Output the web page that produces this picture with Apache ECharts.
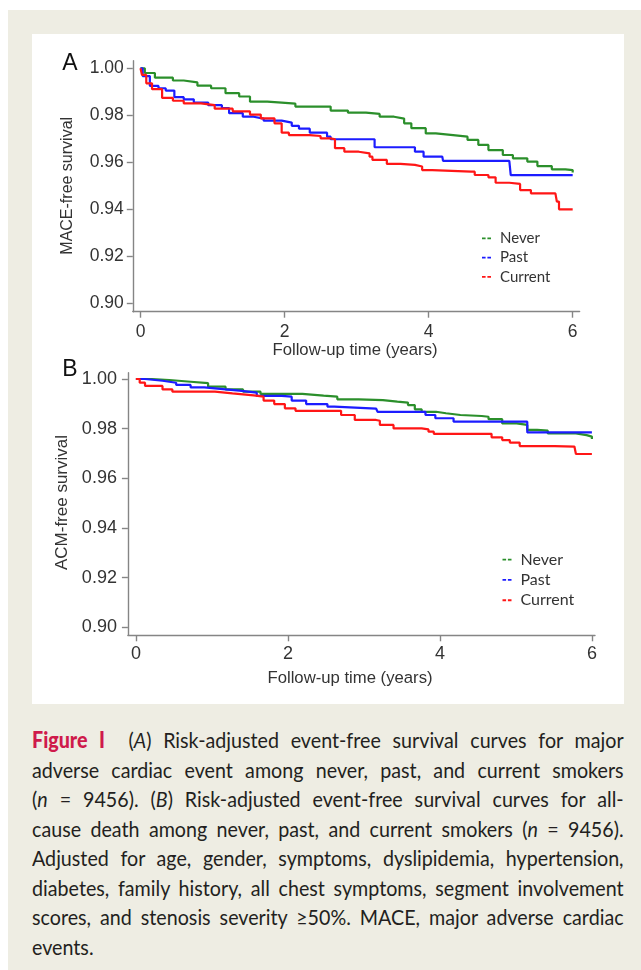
<!DOCTYPE html>
<html>
<head>
<meta charset="utf-8">
<script src="https://cdn.jsdelivr.net/npm/echarts@6/dist/echarts.min.js"></script>
<style>
  html, body { margin: 0; padding: 0; background: #ffffff; width: 641px; height: 970px; overflow: hidden; }
  #beige { position: absolute; left: 8px; top: 10px; width: 633px; height: 960px; background: #eeede3; }
  #panel { position: absolute; left: 32px; top: 34px; width: 592px; height: 670px; background: #ffffff; }
  #chart { position: absolute; left: 0; top: 0; width: 641px; height: 710px; }
  #cap { position: absolute; left: 32px; top: 725px; width: 661px; transform: scaleX(0.895); transform-origin: 0 0;
         font-family: Lato, "Open Sans", sans-serif; font-size: 22px; color: #231f20; }
  #cap .ln { height: 29.5px; line-height: 29.5px; white-space: nowrap; text-align: justify; text-align-last: justify; }
  #cap .ln.last { text-align-last: left; }
  #cap .fig { color: #cf1a4b; font-weight: 900; }
</style>
</head>
<body>
<div id="beige"></div>
<div id="panel"></div>
<div id="chart"></div>
<div id="cap">
  <div class="ln"><span class="fig">Figure I</span>&nbsp; (<i>A</i>) Risk-adjusted event-free survival curves for major</div>
  <div class="ln">adverse cardiac event among never, past, and current smokers</div>
  <div class="ln">(<i>n</i> = 9456). (<i>B</i>) Risk-adjusted event-free survival curves for all-</div>
  <div class="ln">cause death among never, past, and current smokers (<i>n</i> = 9456).</div>
  <div class="ln">Adjusted for age, gender, symptoms, dyslipidemia, hypertension,</div>
  <div class="ln">diabetes, family history, all chest symptoms, segment involvement</div>
  <div class="ln">scores, and stenosis severity ≥50%. MACE, major adverse cardiac</div>
  <div class="ln last">events.</div>
</div>
<script>
// ---- Data ----
const groups = ['Never', 'Past', 'Current'];
const xTicks = [0, 2, 4, 6];
const yTicks = [0.90, 0.92, 0.94, 0.96, 0.98, 1.00];

// Panel A: MACE-free survival
const aNeverT = [0, 0.06, 0.2, 0.45, 0.6, 0.79, 0.98, 1.18, 1.37, 1.52, 1.76, 1.96, 2.15, 2.4, 2.64, 2.88, 3.13, 3.32, 3.52, 3.66, 3.76, 3.96, 4.1, 4.34, 4.54, 4.69, 4.83, 5.03, 5.17, 5.37, 5.51, 5.71, 5.9, 6.0];
const aNeverS = [1.000, 0.998, 0.996, 0.9948, 0.994, 0.9926, 0.9915, 0.9894, 0.988, 0.9858, 0.9854, 0.985, 0.9837, 0.9837, 0.982, 0.9811, 0.9806, 0.9794, 0.9786, 0.9766, 0.9745, 0.9723, 0.9716, 0.9709, 0.9695, 0.9674, 0.9652, 0.9631, 0.9617, 0.9603, 0.9584, 0.957, 0.9567, 0.9557];
const aPastT = [0, 0.03, 0.13, 0.25, 0.35, 0.47, 0.6, 0.74, 0.94, 1.13, 1.23, 1.42, 1.57, 1.71, 1.96, 2.1, 2.2, 2.35, 2.59, 2.64, 3.15, 3.25, 3.78, 3.81, 3.93, 4.19, 4.2, 5.12, 5.14, 6.0];
const aPastS = [1.000, 0.9967, 0.9925, 0.9915, 0.9905, 0.9877, 0.9868, 0.9854, 0.9843, 0.9831, 0.9809, 0.9794, 0.9786, 0.9777, 0.9769, 0.9755, 0.9743, 0.9726, 0.9709, 0.9698, 0.9698, 0.9664, 0.9664, 0.9645, 0.9624, 0.9624, 0.9606, 0.9606, 0.9545, 0.9545];
const aCurT = [0, 0.02, 0.08, 0.16, 0.3, 0.45, 0.6, 0.84, 1.03, 1.28, 1.52, 1.67, 1.86, 1.96, 2.06, 2.35, 2.5, 2.64, 2.7, 2.83, 3.03, 3.18, 3.22, 3.42, 3.61, 3.81, 3.91, 4.05, 4.59, 4.64, 4.83, 4.93, 5.12, 5.27, 5.42, 5.76, 5.78, 5.81, 6.0];
const aCurS = [1.000, 0.9972, 0.9936, 0.9911, 0.9874, 0.9862, 0.9851, 0.9843, 0.9828, 0.9817, 0.9803, 0.9787, 0.9766, 0.9726, 0.9716, 0.9712, 0.9702, 0.9698, 0.966, 0.9645, 0.9638, 0.9624, 0.961, 0.9593, 0.9589, 0.9582, 0.9567, 0.956, 0.956, 0.9546, 0.9536, 0.9513, 0.9508, 0.9482, 0.9468, 0.9468, 0.9433, 0.94, 0.94];

// Panel B: ACM-free survival
const bNeverT = [0, 0.21, 0.44, 0.72, 0.95, 1.18, 1.41, 1.64, 2.0, 2.19, 2.47, 2.65, 2.93, 3.25, 3.44, 3.58, 3.67, 3.76, 3.95, 4.08, 4.27, 4.55, 4.64, 4.82, 5.01, 5.15, 5.28, 5.42, 5.79, 5.93, 6.0];
const bNeverS = [1.000, 0.9996, 0.9989, 0.9983, 0.9969, 0.9958, 0.9949, 0.994, 0.994, 0.9933, 0.9929, 0.9918, 0.9915, 0.9909, 0.9905, 0.9895, 0.9878, 0.9868, 0.9862, 0.9855, 0.9851, 0.9848, 0.9838, 0.9821, 0.9815, 0.9795, 0.9792, 0.9781, 0.9774, 0.9768, 0.9758];
const bPastT = [0, 0.12, 0.35, 0.53, 0.72, 0.9, 1.18, 1.36, 1.59, 1.92, 2.05, 2.24, 2.52, 2.61, 3.16, 3.18, 3.78, 3.81, 3.94, 4.18, 5.12, 5.15, 6.0];
const bPastS = [1.000, 0.9993, 0.9985, 0.9976, 0.9966, 0.9958, 0.9953, 0.9945, 0.9932, 0.9929, 0.9913, 0.9899, 0.9889, 0.9881, 0.9881, 0.9868, 0.9868, 0.9855, 0.9842, 0.9828, 0.9828, 0.9785, 0.9785];
const bCurT = [0, 0.05, 0.12, 0.35, 0.48, 0.81, 1.04, 1.27, 1.55, 1.68, 1.82, 1.96, 2.1, 2.52, 2.7, 2.88, 3.16, 3.21, 3.39, 3.76, 3.85, 3.92, 4.59, 4.68, 4.82, 4.92, 5.05, 5.33, 5.51, 5.77, 5.79, 6.0];
const bCurS = [1.000, 0.9985, 0.9972, 0.9958, 0.9949, 0.9949, 0.9942, 0.9934, 0.9929, 0.9913, 0.9899, 0.9882, 0.9872, 0.9872, 0.9855, 0.9835, 0.9832, 0.9815, 0.9801, 0.9797, 0.9788, 0.9779, 0.9779, 0.9765, 0.9754, 0.9744, 0.973, 0.973, 0.9728, 0.9721, 0.9698, 0.9698];

// ---- Chart ----
const colors = { Never: '#2b8f2b', Past: '#1c1cff', Current: '#ff1616' };
const zip = (t, s) => t.map((v, i) => [v, s[i]]);
const axisGrey = '#858585';
const labelFont = 'Liberation Sans, Arial, sans-serif';

function xAx(gi, min, max, fs, margin) {
  return {
    type: 'value', gridIndex: gi, min: min, max: max,
    axisLine: { show: true, onZero: false, lineStyle: { color: axisGrey, width: 1.4 } },
    axisTick: { show: true, length: 6, customValues: xTicks, lineStyle: { color: axisGrey, width: 1.4 } },
    axisLabel: { customValues: xTicks, formatter: v => String(v), fontFamily: labelFont, fontSize: fs, color: '#333', margin: margin },
    splitLine: { show: false }
  };
}
function yAx(gi, min, max, fs, margin) {
  return {
    type: 'value', gridIndex: gi, min: min, max: max,
    axisLine: { show: true, onZero: false, lineStyle: { color: axisGrey, width: 1.4 } },
    axisTick: { show: true, length: 6, customValues: yTicks, lineStyle: { color: axisGrey, width: 1.4 } },
    axisLabel: { customValues: yTicks, formatter: v => v.toFixed(2), fontFamily: labelFont, fontSize: fs, color: '#333', margin: margin },
    splitLine: { show: false }
  };
}
function ser(name, gi, t, s) {
  return {
    name: name, type: 'line', xAxisIndex: gi, yAxisIndex: gi, step: 'end',
    data: zip(t, s), symbol: 'none', color: colors[name],
    lineStyle: { color: colors[name], width: 2.2 }, animation: false, silent: true
  };
}
const dashIcon = 'path://M0 0H4V2H0Z M6 0H10V2H6Z';
function leg(left, top, fs, lh) {
  return {
    data: groups, orient: 'vertical', left: left, top: top, padding: 0, itemGap: 0,
    itemWidth: 9, itemHeight: 2, icon: dashIcon, selectedMode: false,
    textStyle: { fontFamily: 'Lato, sans-serif', fontSize: fs, color: '#333', lineHeight: lh, padding: [0, 0, 0, 4] }
  };
}
function txt(text, x, y, fs, rot, color) {
  return {
    type: 'text', x: x, y: y, rotation: rot || 0, silent: true,
    style: { text: text, x: 0, y: 0, fill: color || '#333', font: fs + 'px "Liberation Sans", Arial, sans-serif',
             align: 'center', verticalAlign: 'middle', textAlign: 'center', textVerticalAlign: 'middle' }
  };
}

const chart = echarts.init(document.getElementById('chart'), null, { renderer: 'canvas' });
chart.setOption({
  backgroundColor: 'transparent',
  animation: false,
  grid: [
    { left: 132.8, top: 60.7, width: 446.8, height: 251 },
    { left: 127.9, top: 372.7, width: 467.1, height: 262.6 }
  ],
  xAxis: [xAx(0, -0.1069, 6.096, 17.5, 11), xAx(1, -0.1053, 6.041, 18, 10)],
  yAxis: [yAx(0, 0.896425, 1.003234, 17.5, 9), yAx(1, 0.896778, 1.002537, 18, 11)],
  legend: [leg(482, 228.8, 15, 19.2), leg(502.5, 549.5, 16, 20.3)],
  series: [
    ser('Never', 0, aNeverT, aNeverS),
    ser('Past', 0, aPastT, aPastS),
    ser('Current', 0, aCurT, aCurS),
    ser('Never', 1, bNeverT, bNeverS),
    ser('Past', 1, bPastT, bPastS),
    ser('Current', 1, bCurT, bCurS)
  ],
  graphic: [
    txt('A', 70, 63.5, 23, 0, '#111'),
    txt('B', 70, 370, 23, 0, '#111'),
    txt('MACE-free survival', 67.5, 185.8, 16, Math.PI / 2),
    txt('ACM-free survival', 62.3, 502.5, 17, Math.PI / 2),
    txt('Follow-up time (years)', 355, 350.5, 16.7, 0),
    txt('Follow-up time (years)', 350, 678.5, 16.7, 0)
  ]
});
</script>
</body>
</html>
